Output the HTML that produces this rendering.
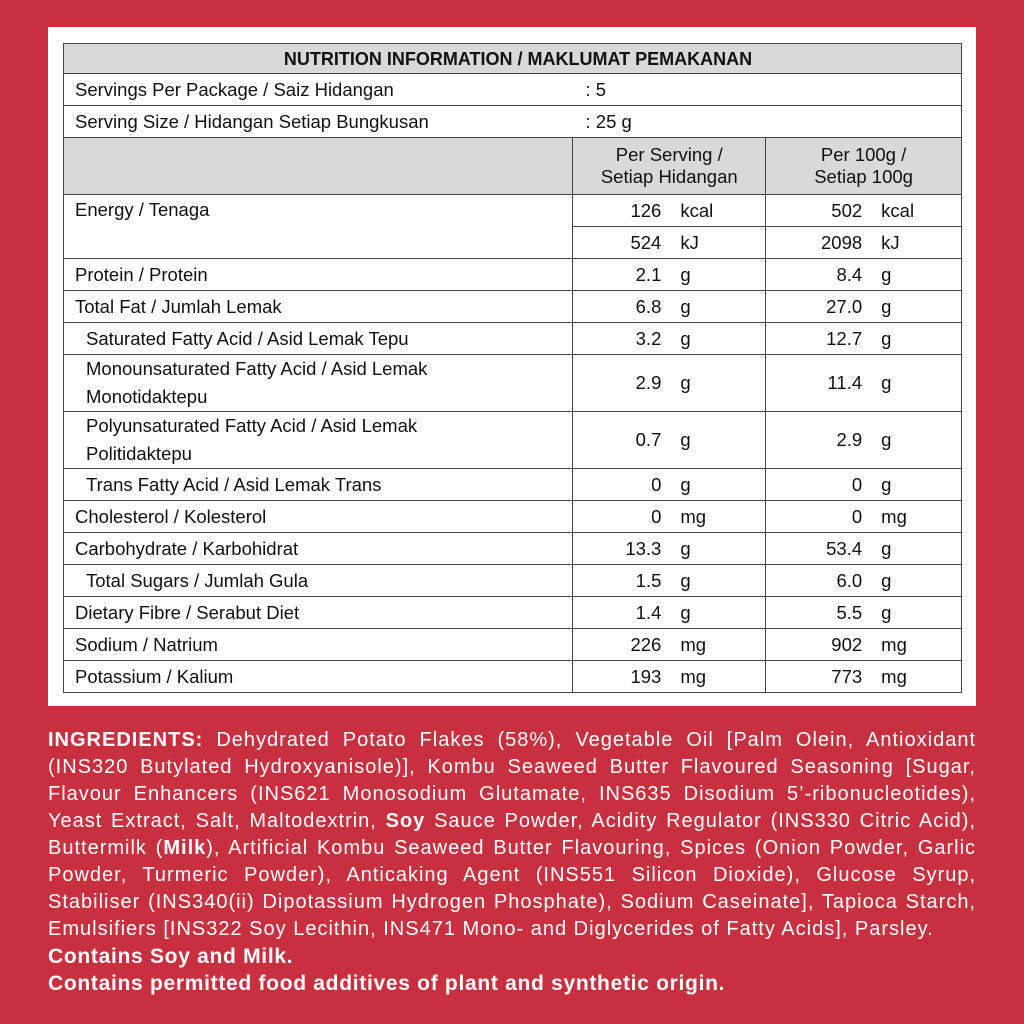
<!DOCTYPE html>
<html><head><meta charset="utf-8"><style>
body{margin:0;width:1024px;height:1024px;background:#c8303f;position:relative;overflow:hidden;font-family:"Liberation Sans",sans-serif}
.panel{position:absolute;left:48px;top:27px;width:928px;height:679px;background:#fff}
table{position:absolute;left:63px;top:43px;width:899px;border-collapse:collapse;font-size:18.5px;color:#111}
td{border:1.5px solid #444;padding:0 0 0 11px;height:31px;line-height:22px}
.g{background:#d9d9d9}
.hd{text-align:center;font-weight:bold;font-size:18px;height:29px}
.c{text-align:center;padding:0}
.n{padding:0}
.n span{display:inline-block}
.n .v{width:88px;text-align:right}
.n .u{padding-left:19px}
.m .v{width:96px}
.in{padding-left:22px}
.ing{position:absolute;left:48px;top:727px;width:928px;color:#fff;font-size:20px;letter-spacing:1px;line-height:27px}
.ing div{white-space:nowrap;text-align:justify;text-align-last:justify}
.ing div.l{text-align-last:left}
.ing .bb{font-size:21px;letter-spacing:0.7px;font-weight:bold;text-align-last:left}
</style></head><body>
<div class="panel"></div>
<table>
<colgroup><col style="width:510px"><col style="width:193px"><col style="width:196px"></colgroup>
<tr><td colspan="3" class="g hd">NUTRITION INFORMATION / MAKLUMAT PEMAKANAN</td></tr>
<tr><td colspan="3">Servings Per Package / Saiz Hidangan<span style="position:absolute;left:522px">: 5</span></td></tr>
<tr><td colspan="3">Serving Size / Hidangan Setiap Bungkusan<span style="position:absolute;left:522px">: 25 g</span></td></tr>
<tr><td class="g" style="height:56px"></td><td class="g c">Per Serving /<br>Setiap Hidangan</td><td class="g c">Per 100g /<br>Setiap 100g</td></tr>
<tr><td rowspan="2" style="vertical-align:top;padding-top:4px">Energy / Tenaga</td><td class="n"><span class="v">126</span><span class="u">kcal</span></td><td class="n m"><span class="v">502</span><span class="u">kcal</span></td></tr>
<tr><td class="n"><span class="v">524</span><span class="u">kJ</span></td><td class="n m"><span class="v">2098</span><span class="u">kJ</span></td></tr>
<tr><td>Protein / Protein</td><td class="n"><span class="v">2.1</span><span class="u">g</span></td><td class="n m"><span class="v">8.4</span><span class="u">g</span></td></tr>
<tr><td>Total Fat / Jumlah Lemak</td><td class="n"><span class="v">6.8</span><span class="u">g</span></td><td class="n m"><span class="v">27.0</span><span class="u">g</span></td></tr>
<tr><td class="in">Saturated Fatty Acid / Asid Lemak Tepu</td><td class="n"><span class="v">3.2</span><span class="u">g</span></td><td class="n m"><span class="v">12.7</span><span class="u">g</span></td></tr>
<tr><td class="in" style="height:56px;line-height:28px">Monounsaturated Fatty Acid / Asid Lemak<br>Monotidaktepu</td><td class="n"><span class="v">2.9</span><span class="u">g</span></td><td class="n m"><span class="v">11.4</span><span class="u">g</span></td></tr>
<tr><td class="in" style="height:56px;line-height:28px">Polyunsaturated Fatty Acid / Asid Lemak<br>Politidaktepu</td><td class="n"><span class="v">0.7</span><span class="u">g</span></td><td class="n m"><span class="v">2.9</span><span class="u">g</span></td></tr>
<tr><td class="in">Trans Fatty Acid / Asid Lemak Trans</td><td class="n"><span class="v">0</span><span class="u">g</span></td><td class="n m"><span class="v">0</span><span class="u">g</span></td></tr>
<tr><td>Cholesterol / Kolesterol</td><td class="n"><span class="v">0</span><span class="u">mg</span></td><td class="n m"><span class="v">0</span><span class="u">mg</span></td></tr>
<tr><td>Carbohydrate / Karbohidrat</td><td class="n"><span class="v">13.3</span><span class="u">g</span></td><td class="n m"><span class="v">53.4</span><span class="u">g</span></td></tr>
<tr><td class="in">Total Sugars / Jumlah Gula</td><td class="n"><span class="v">1.5</span><span class="u">g</span></td><td class="n m"><span class="v">6.0</span><span class="u">g</span></td></tr>
<tr><td>Dietary Fibre / Serabut Diet</td><td class="n"><span class="v">1.4</span><span class="u">g</span></td><td class="n m"><span class="v">5.5</span><span class="u">g</span></td></tr>
<tr><td>Sodium / Natrium</td><td class="n"><span class="v">226</span><span class="u">mg</span></td><td class="n m"><span class="v">902</span><span class="u">mg</span></td></tr>
<tr><td>Potassium / Kalium</td><td class="n"><span class="v">193</span><span class="u">mg</span></td><td class="n m"><span class="v">773</span><span class="u">mg</span></td></tr>
</table>
<div class="ing">
<div><b>INGREDIENTS:</b> Dehydrated Potato Flakes (58%), Vegetable Oil [Palm Olein, Antioxidant</div>
<div>(INS320 Butylated Hydroxyanisole)], Kombu Seaweed Butter Flavoured Seasoning [Sugar,</div>
<div>Flavour Enhancers (INS621 Monosodium Glutamate, INS635 Disodium 5’-ribonucleotides),</div>
<div>Yeast Extract, Salt, Maltodextrin, <b>Soy</b> Sauce Powder, Acidity Regulator (INS330 Citric Acid),</div>
<div>Buttermilk (<b>Milk</b>), Artificial Kombu Seaweed Butter Flavouring, Spices (Onion Powder, Garlic</div>
<div>Powder, Turmeric Powder), Anticaking Agent (INS551 Silicon Dioxide), Glucose Syrup,</div>
<div>Stabiliser (INS340(ii) Dipotassium Hydrogen Phosphate), Sodium Caseinate], Tapioca Starch,</div>
<div class="l">Emulsifiers [INS322 Soy Lecithin, INS471 Mono- and Diglycerides of Fatty Acids], Parsley.</div>
<div class="bb">Contains Soy and Milk.</div>
<div class="bb">Contains permitted food additives of plant and synthetic origin.</div>
</div>
</body></html>
